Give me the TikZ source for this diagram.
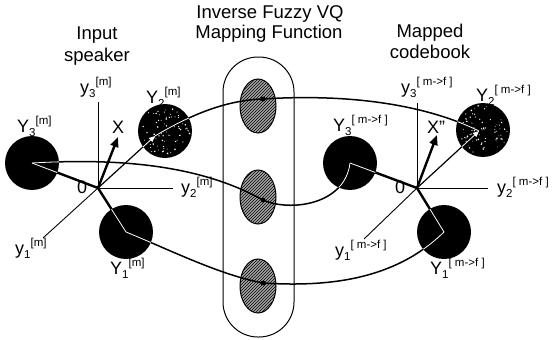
\documentclass[tikz,border=0pt]{standalone}
\usepackage{fontspec}
\setmainfont{Liberation Sans}
\usetikzlibrary{patterns,arrows.meta,shapes.geometric,calc}

% label with a lowered index and a raised tag
\newcommand{\lbl}[3]{#1\raisebox{-4pt}{\fontsize{11.5}{11.5}\selectfont #2}\raisebox{7.5pt}{\fontsize{11.5}{11.5}\selectfont #3}}

\tikzset{
  title/.style={anchor=base, font=\fontsize{18.5}{20}\selectfont, inner sep=0},
  tag/.style={anchor=base west, font=\fontsize{18}{20}\selectfont, inner sep=0},
  blob/.style={circle, fill=black, minimum size=54pt, inner sep=0},
  cell/.style={ellipse, draw=black, line width=1pt, fill=gray!70,
    postaction={pattern=north east lines}, minimum width=36pt, minimum height=54pt, inner sep=0},
  axis/.style={line width=0.9pt},
  spoke/.style={line width=2.4pt},
  link/.style={line width=1.5pt},
  vec/.style={line width=2.4pt, -{Triangle[length=10pt,width=8pt]}},
  thinvec/.style={line width=1.2pt, -{Triangle[length=7pt,width=6pt]}},
  knot/.style={circle, fill=black, minimum size=5pt, inner sep=0},
}

\begin{document}
\begin{tikzpicture}[x=1pt,y=-1pt]
\useasboundingbox[fill=white] (0,0) rectangle (555,340);

% headings
\node[title] (h1a) at (97,39) {Input};
\node[title] (h1b) at (97,61) {speaker};
\node[title] (h2a) at (270,18) {Inverse Fuzzy VQ};
\node[title] (h2b) at (269,38) {Mapping Function};
\node[title] (h3a) at (430,37) {Mapped};
\node[title] (h3b) at (430,58) {codebook};

% mapping function container
\draw[line width=1pt, rounded corners=35pt] (223,57) rectangle (294,337);
\node[cell] (c1) at (258,106) {};
\node[cell] (c2) at (258,197) {};
\node[cell] (c3) at (258,286) {};

% axis origins and ends
\coordinate (O1) at (98,188);
\coordinate (O2) at (417,188);
\coordinate (z1) at (98,102);
\coordinate (r1) at (173,188);
\coordinate (d1) at (43,238);
\coordinate (z2) at (417,103);
\coordinate (r2) at (488,188);
\coordinate (d2) at (364,239);
\coordinate (x1) at (118,137);
\coordinate (x2) at (437,135);
\coordinate (t1) at (155,136);
\coordinate (t2) at (479,131);
\coordinate (m1) at (263,99);
\coordinate (m2) at (263,200);
\coordinate (m3) at (263,283);

% codebook vectors
\node[blob] (Y3m) at (32,163) {};
\node[blob] (Y2m) at (165,131) {};
\node[blob] (Y1m) at (126,232) {};
\node[blob] (Y3f) at (350,163) {};
\node[blob] (Y2f) at (483,130) {};
\node[blob] (Y1f) at (444,232) {};

% speckled texture on the second vectors
\pgfmathsetseed{11}
\foreach \c in {Y2m,Y2f}{
  \foreach \i in {1,...,70}{
    \pgfmathsetmacro\ang{rnd*360}
    \pgfmathsetmacro\rad{sqrt(rnd)*25}
    \pgfmathsetmacro\sz{0.4+0.5*rnd}
    \fill[white] ($(\c.center)+(\ang:\rad pt)$) circle (\sz pt);
  }
}

% axes
\draw[axis] (z1) -- (O1) -- (r1);
\draw[axis] (O1) -- (d1);
\draw[axis] (z2) -- (O2) -- (r2);
\draw[axis] (O2) -- (d2);

% mapping curves
\draw[link] (t1) .. controls (195,112) and (230,100) .. (m1)
                 .. controls (340,94) and (420,102) .. (t2);
\draw[link] (Y3m.center) .. controls (120,158) and (200,165) .. (m2)
                 .. controls (290,212) and (345,205) .. (Y3f.center);
\draw[link] (Y1m.center) .. controls (170,250) and (220,275) .. (m3)
                 .. controls (340,288) and (400,275) .. (Y1f.center);
\node[knot] (k1) at (m1) {};
\node[knot] (k2) at (m2) {};
\node[knot] (k3) at (m3) {};

% vectors from the origins
\draw[spoke] (O1) -- (Y3m.center);
\draw[spoke] (O1) -- (Y1m.center);
\draw[thinvec] (O1) -- (t1);
\draw[vec] (O1) -- (x1);
\draw[spoke] (O2) -- (Y3f.center);
\draw[spoke] (O2) -- (Y1f.center);
\draw[thinvec] (O2) -- (t2);
\draw[vec] (O2) -- (x2);

% lines seen inside the dark discs
\begin{scope}
  \clip (Y3m.center) circle (27pt) (Y2m.center) circle (27pt) (Y1m.center) circle (27pt)
        (Y3f.center) circle (27pt) (Y2f.center) circle (27pt) (Y1f.center) circle (27pt);
  \draw[white, line width=0.8pt] (O1) -- (Y3m.center) (O1) -- (Y1m.center)
       (O2) -- (Y3f.center) (O2) -- (Y1f.center);
  \draw[white, line width=0.8pt, -{Triangle[length=6pt,width=5pt]}] (O1) -- (t1);
  \draw[white, line width=0.8pt, -{Triangle[length=6pt,width=5pt]}] (O2) -- (t2);
  \draw[white, line width=0.8pt] (t1) .. controls (195,112) and (230,100) .. (m1)
                 .. controls (340,94) and (420,102) .. (t2);
  \draw[white, line width=0.8pt] (Y3m.center) .. controls (120,158) and (200,165) .. (m2)
                 .. controls (290,212) and (345,205) .. (Y3f.center);
  \draw[white, line width=0.8pt] (Y1m.center) .. controls (170,250) and (220,275) .. (m3)
                 .. controls (340,288) and (400,275) .. (Y1f.center);
\end{scope}

% labels, input side
\node[tag] (ly3m) at (80,93) {\lbl{y}{3}{[m]}};
\node[tag] (lY2m) at (146,103) {\lbl{Y}{2}{[m]}};
\node[tag] (lY3m) at (17,132) {\lbl{Y}{3}{[m]}};
\node[tag] (lX) at (112,133) {X};
\node[tag] (l0a) at (77,193) {0};
\node[tag] (ly2m) at (181,193) {\lbl{y}{2}{[m]}};
\node[tag] (ly1m) at (15,254) {\lbl{y}{1}{[m]}};
\node[tag] (lY1m) at (110,274) {\lbl{Y}{1}{[m]}};

% labels, mapped side
\node[tag] (ly3f) at (401,93) {\lbl{y}{3}{[ m->f ]}};
\node[tag] (lY2f) at (476,101) {\lbl{Y}{2}{[ m->f ]}};
\node[tag] (lY3f) at (333,131) {\lbl{Y}{3}{[ m->f ]}};
\node[tag] (lX2) at (427,133) {X"};
\node[tag] (l0b) at (395,193) {0};
\node[tag] (ly2f) at (497,193) {\lbl{y}{2}{[ m->f ]}};
\node[tag] (ly1f) at (335,256) {\lbl{y}{1}{[ m->f ]}};
\node[tag] (lY1f) at (430,274) {\lbl{Y}{1}{[ m->f ]}};
\end{tikzpicture}
\end{document}
